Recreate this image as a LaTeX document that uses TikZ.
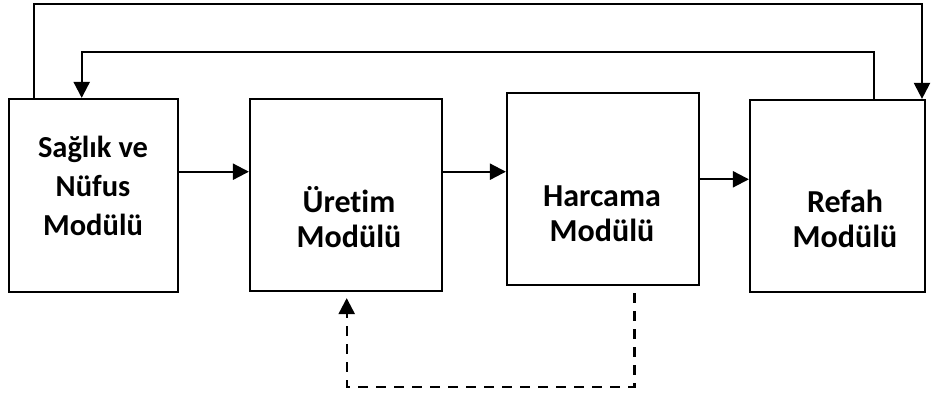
\documentclass[tikz,border=0pt]{standalone}
\usepackage{fontspec}
\setmainfont{Carlito}[Ligatures=NoCommon]
\usetikzlibrary{arrows.meta,calc}
\begin{document}
\begin{tikzpicture}[x=1pt,y=-1pt,
  box/.style={draw,line width=2.2pt,rectangle,minimum width=#1},
  lbl/.style={align=center,font=\bfseries\fontsize{32}{35}\selectfont},
  lblsmall/.style={align=center,font=\bfseries\fontsize{30.5}{39}\selectfont},
  arr/.style={line width=2.2pt,-{Triangle[length=16pt,width=16pt]}},
  dsh/.style={line width=2.4pt,dash pattern=on 10pt off 8pt,-{Triangle[length=16pt,width=16pt]}}]
\useasboundingbox (0,0) rectangle (935,393);
\node[box=169pt,minimum height=193pt] (b1) at (93.5,195.5) {};
\node[box=192pt,minimum height=192pt] (b2) at (346,195) {};
\node[box=192pt,minimum height=192pt] (b3) at (603,189) {};
\node[box=175pt,minimum height=192pt] (b4) at (837.5,196) {};
\node[lblsmall] (t1) at (93,186) {Sağlık ve\\Nüfus\\Modülü};
\node[lbl] (t2) at (349,217) {Üretim\\Modülü};
\node[lbl] (t3) at (602,214) {Harcama\\Modülü};
\node[lbl] (t4) at (845,219) {Refah\\Modülü};
\coordinate (r1) at (0,171.7);
\coordinate (r2) at (0,179.3);
\draw[arr] (b1.east |- r1) -- (b2.west |- r1);
\draw[arr] (b2.east |- r1) -- (b3.west |- r1);
\draw[arr] (b3.east |- r2) -- (b4.west |- r2);
\coordinate (o1) at (33.7,3.7);
\coordinate (o2) at (922,3.7);
\draw[arr] (b1.north -| o1) |- (o2) -- (b4.north -| o2);
\coordinate (i1) at (874,51.7);
\coordinate (i2) at (81.7,51.7);
\draw[arr] (b4.north -| i1) |- (i2) -- (b1.north -| i2);
\coordinate (d1) at (634.3,386.7);
\coordinate (d2) at (346.7,386.7);
\draw[dsh,shorten <=7pt,shorten >=6pt] (b3.south -| d1) -- (d1) -- (d2) -- (b2.south -| d2);
\end{tikzpicture}
\end{document}
